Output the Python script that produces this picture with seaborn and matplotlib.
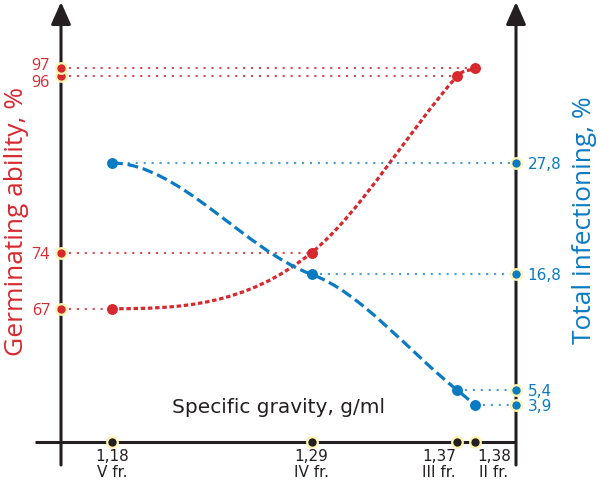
import numpy as np
import matplotlib
matplotlib.use("Agg")
import matplotlib.pyplot as plt
import matplotlib.transforms as mtransforms
from matplotlib.path import Path
from matplotlib.patches import PathPatch
import seaborn as sns
import pandas as pd

# ---- data ----
gravity = [1.18, 1.29, 1.37, 1.38]
gravity_labels = ["1,18\nV fr.", "1,29\nIV fr.", "1,37\nIII fr.", "1,38\nII fr."]
germination = [67, 74, 96, 97]
germination_labels = ["67", "74", "96", "97"]
infection = [27.8, 16.8, 5.4, 3.9]
infection_labels = ["27,8", "16,8", "5,4", "3,9"]

RED = "#d7282f"
BLUE = "#0a7bc2"
INK = "#231f20"
HALO = "#fff4b0"

sns.set_theme(style="white")
plt.rcParams["font.family"] = ["DejaVu Sans"]

fig = plt.figure(figsize=(6, 4.86), dpi=100)
ax = fig.add_axes([61 / 600, 44 / 486, 455 / 600, 440 / 486])
ax2 = ax.twinx()
for a in (ax, ax2):
    for s in a.spines.values():
        s.set_visible(False)
    a.patch.set_alpha(0)

ax.set_xlim(1.1519, 1.4026)
ax.set_ylim(50.36, 105.29)
ax2.set_ylim(0.246, 43.70)
x0, x1 = ax.get_xlim()


def smooth_path(xs, ys, tension):
    """Cubic Bezier path through the points (flat start, Catmull-Rom style tangents)."""
    xs = np.asarray(xs, float)
    ys = np.asarray(ys, float)
    h = np.diff(xs)
    m = np.zeros(len(xs))
    for i in range(1, len(xs) - 1):
        m[i] = tension[i] * (ys[i + 1] - ys[i - 1]) / (xs[i + 1] - xs[i - 1])
    m[0] = 0.0
    m[-1] = (ys[-1] - ys[-2]) / h[-1]
    verts = [(xs[0], ys[0])]
    codes = [Path.MOVETO]
    for i in range(len(xs) - 1):
        verts += [(xs[i] + h[i] / 3, ys[i] + m[i] * h[i] / 3),
                  (xs[i + 1] - h[i] / 3, ys[i + 1] - m[i + 1] * h[i] / 3),
                  (xs[i + 1], ys[i + 1])]
        codes += [Path.CURVE4] * 3
    return Path(verts, codes)


# guide lines
ax.hlines(germination, x0, gravity, colors=RED, linestyles=(0, (1, 2.8)), lw=1.5, alpha=0.85, zorder=2)
ax2.hlines(infection, gravity, x1, colors=BLUE, linestyles=(0, (1, 2.8)), lw=1.5, alpha=0.75, zorder=2)

# curves
ax.add_patch(PathPatch(smooth_path(gravity, germination, [1, 1.2, 1, 1]), fill=False, edgecolor=RED,
                       lw=2.3, linestyle=(0, (1.4, 0.85)), zorder=3))
ax2.add_patch(PathPatch(smooth_path(gravity, infection, [1, 0.55, 1, 1]), fill=False, edgecolor=BLUE,
                        lw=2.3, linestyle=(0, (3.4, 1.5)), zorder=3))

df = pd.DataFrame({"g": gravity, "germ": germination, "inf": infection})
sns.scatterplot(data=df, x="g", y="germ", ax=ax, color=RED, s=62, linewidth=0, zorder=5, legend=False)
sns.scatterplot(data=df, x="g", y="inf", ax=ax2, color=BLUE, s=62, linewidth=0, zorder=5, legend=False)

# axis lines
ax.plot([-26 / 455, 1], [0, 0], transform=ax.transAxes, color=INK, lw=2.2, clip_on=False, zorder=4,
        solid_capstyle="butt")
for xa in (0, 1):
    ax.annotate("", xy=(xa, 1), xytext=(xa, -23 / 440), xycoords="axes fraction",
                arrowprops=dict(arrowstyle="-|>,head_length=1.35,head_width=0.6", lw=2.2, color=INK,
                                shrinkA=0, shrinkB=0, mutation_scale=10), zorder=4)

# markers on axes
ax.scatter([x0] * 4, germination, s=58, color=RED, edgecolor=HALO, linewidth=1.6, clip_on=False, zorder=6)
ax2.scatter([x1] * 4, infection, s=58, color=BLUE, edgecolor=HALO, linewidth=1.6, clip_on=False, zorder=6)
ax.scatter(gravity, [ax.get_ylim()[0]] * 4, s=58, color=INK, edgecolor=HALO, linewidth=1.6,
           clip_on=False, zorder=6)

# ticks
ax.set_xticks(gravity, gravity_labels)
ax.tick_params(axis="x", length=0, pad=5, labelsize=11, labelcolor=INK)
xt = ax.get_xticklabels()
for t in xt:
    t.set_linespacing(1.05)
    t.set_multialignment("center")
# the two close fractions: push labels apart
xt[2].set_ha("right")
xt[2].set_transform(xt[2].get_transform() + mtransforms.ScaledTranslation(-1 / 100, 0, fig.dpi_scale_trans))
xt[3].set_ha("left")
xt[3].set_transform(xt[3].get_transform() + mtransforms.ScaledTranslation(2 / 100, 0, fig.dpi_scale_trans))

ax.set_yticks(germination, germination_labels)
ax.tick_params(axis="y", length=0, pad=8, labelsize=11.5, labelcolor=RED)
yt = ax.get_yticklabels()
for t in yt:
    t.set_fontfamily("Open Sans")
yt[2].set_transform(yt[2].get_transform() + mtransforms.ScaledTranslation(0, -5 / 100, fig.dpi_scale_trans))
yt[3].set_transform(yt[3].get_transform() + mtransforms.ScaledTranslation(0, 4 / 100, fig.dpi_scale_trans))

ax2.set_yticks(infection, infection_labels)
ax2.tick_params(axis="y", length=0, pad=8.5, labelsize=11, labelcolor=BLUE)

# titles
ax.set_xlabel("Specific gravity, g/ml", fontsize=14.5, color=INK)
ax.xaxis.set_label_coords(0.477, 0.0773)
ax.xaxis.label.set_va("center")
ax.set_ylabel("Germinating ability, %", fontsize=19, color=RED, family="Open Sans")
ax.yaxis.set_label_coords(-0.0989, 0.502)
ax.yaxis.label.set_va("center")
ax2.set_ylabel("Total infectioning, %", fontsize=19, color=BLUE, family="Open Sans", rotation=90)
ax2.yaxis.set_label_coords(1.1516, 0.5045)
ax2.yaxis.label.set_va("center")

fig.savefig("out.png", dpi=100, facecolor="white")
